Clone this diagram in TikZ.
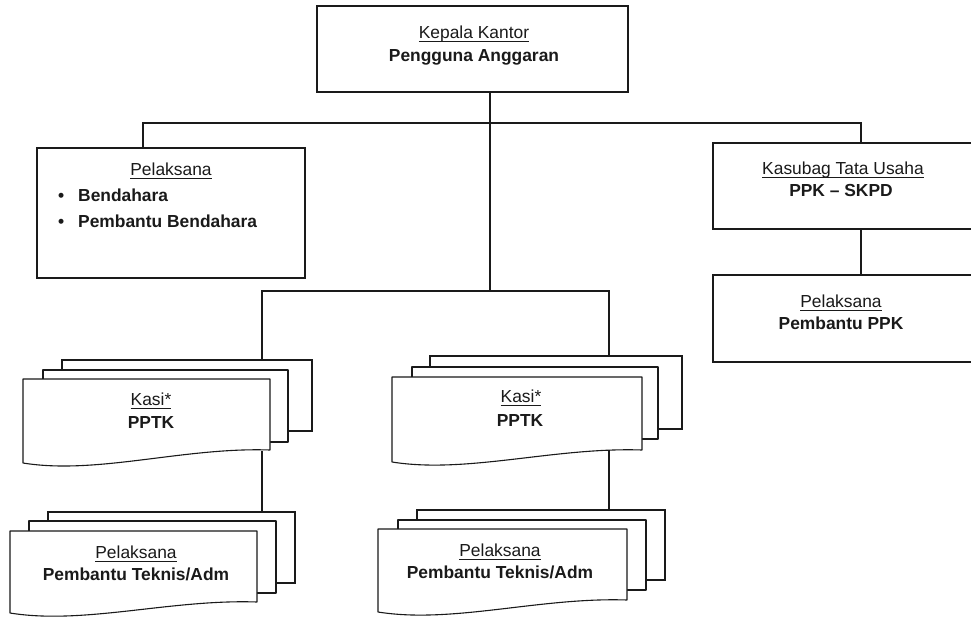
\documentclass[tikz,border=0pt]{standalone}
\usepackage{fontspec}
\setmainfont{Liberation Sans}
\usetikzlibrary{calc}
\definecolor{ink}{HTML}{1A1A1A}
\newcommand\undl[1]{\setbox0=\hbox{#1}\rlap{\rule[-3.4pt]{\wd0}{0.9pt}}\box0}
\newcommand\frontdoc[5]{%
  \draw[doc] (#1,#2) -- (#3,#2) -- (#3,#4)
    .. controls ({#3-0.35*(#3-#1)},{#4-3}) and ({#1+0.3*(#3-#1)},{#5+12}) .. (#1,#5) -- cycle;}
\tikzset{
  box/.style={draw=ink, line width=1.1pt, fill=white, inner sep=0pt},
  doc/.style={draw=ink, line width=1.1pt, fill=white, line join=round},
  conn/.style={draw=ink, line width=1.1pt},
  ttl/.style={font=\fontsize{17.4}{21}\selectfont, inner sep=0pt, anchor=base, text=ink},
  bld/.style={font=\fontsize{17.4}{21}\selectfont\bfseries, inner sep=0pt, anchor=base, text=ink},
  bul/.style={font=\fontsize{17.4}{21}\selectfont\bfseries, inner sep=0pt, anchor=base west, text=ink},
}
\begin{document}
\begin{tikzpicture}[x=1pt,y=-1pt]
\useasboundingbox (0,0) rectangle (971,620);
\fill[white] (0,0) rectangle (971,620);

% main boxes
\node[box, minimum width=311, minimum height=86] (kepala) at (472.5,49) {};
\node[box, minimum width=268, minimum height=130] (pelbox) at (171,213) {};
\node[box, minimum width=264, minimum height=86] (kasubag) at (845,186) {};
\node[box, minimum width=264, minimum height=87] (ppk) at (845,318.5) {};

% back sheets of the stacks
\node[box, minimum width=250, minimum height=71] (k1back) at (187,395.5) {};
\node[box, minimum width=252, minimum height=73] (k2back) at (556,392.5) {};
\node[box, minimum width=247, minimum height=71] (p1back) at (171.5,547.5) {};
\node[box, minimum width=248, minimum height=70] (p2back) at (541,545) {};

% middle sheets
\draw[doc] (43,370) rectangle (288,442);
\draw[doc] (412,367) rectangle (658,439);
\draw[doc] (29,521) rectangle (276,593);
\draw[doc] (398,520) rectangle (646,590);

% front sheets (document shape)
\frontdoc{23}{379}{270}{450}{463}
\frontdoc{392}{377}{642}{450}{462}
\frontdoc{10}{531}{257}{602}{613}
\frontdoc{378}{529}{627}{600}{612}

% connectors
\coordinate (trunk) at (490,291);
\coordinate (b1L) at (143,123);
\coordinate (b1R) at (861,123);
\coordinate (b2L) at (262,291);
\coordinate (b2R) at (609,291);
\coordinate (k1out) at (262,451);
\coordinate (k2out) at (609,450);
\draw[conn] (kepala.south -| trunk) -- (trunk);
\draw[conn] (b1L |- pelbox.north) -- (b1L) -- (b1R) -- (b1R |- kasubag.north);
\draw[conn] (b2L |- k1back.north) -- (b2L) -- (b2R) -- (b2R |- k2back.north);
\draw[conn] (kasubag.south -| b1R) -- (b1R |- ppk.north);
\draw[conn] (k1out) -- (k1out |- p1back.north);
\draw[conn] (k2out) -- (k2out |- p2back.north);

% texts
\node[ttl] (kepT) at (474,39) {\undl{Kepala Kantor}};
\node[bld] (kepB) at (474,62) {Pengguna Anggaran};

\node[ttl] (pelT) at (171,176) {\undl{Pelaksana}};
\node[bul] (pelB1) at (58,202) {\makebox[20pt][l]{•}Bendahara};
\node[bul] (pelB2) at (58,228) {\makebox[20pt][l]{•}Pembantu Bendahara};

\node[ttl] (kasT) at (843,175) {\undl{Kasubag Tata Usaha}};
\node[bld] (kasB) at (841,197) {PPK – SKPD};

\node[ttl] (ppkT) at (841,307) {\undl{Pelaksana}};
\node[bld] (ppkB) at (841,329) {Pembantu PPK};

\node[ttl] (k1T) at (151,405) {\undl{Kasi*}};
\node[bld] (k1B) at (151,428) {PPTK};
\node[ttl] (k2T) at (521,402) {\undl{Kasi*}};
\node[bld] (k2B) at (520,426) {PPTK};

\node[ttl] (p1T) at (136,558) {\undl{Pelaksana}};
\node[bld] (p1B) at (136,580) {Pembantu Teknis/Adm};
\node[ttl] (p2T) at (500,556) {\undl{Pelaksana}};
\node[bld] (p2B) at (500,578) {Pembantu Teknis/Adm};
\end{tikzpicture}
\end{document}
